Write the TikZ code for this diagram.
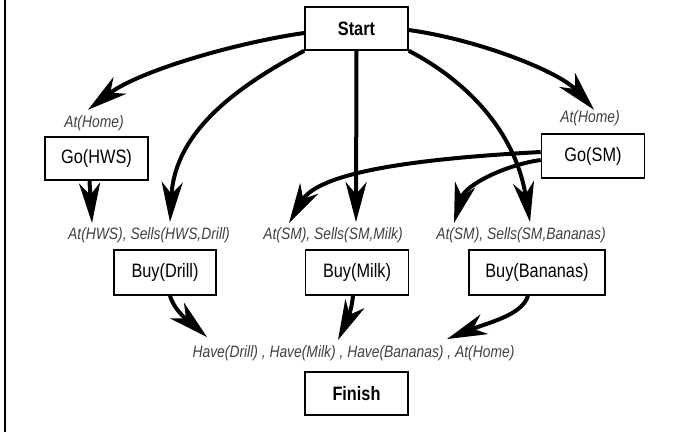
\documentclass[tikz,border=0pt]{standalone}
\usepackage{fontspec}
\setmainfont{Liberation Sans}
\newfontfamily\boxfont[FakeStretch=0.84]{Liberation Sans}
\usetikzlibrary{arrows.meta}
\begin{document}
\begin{tikzpicture}[x=1pt,y=-1pt,
 box/.style={draw=black, line width=1.6pt, minimum width=103pt, minimum height=43pt, inner sep=0pt, font=\boxfont\fontsize{19.4}{20}\selectfont},
 bbox/.style={box, font=\boxfont\bfseries\fontsize{19.4}{20}\selectfont},
 cond/.style={inner sep=0pt, text height=12pt, text depth=3.5pt, text=black!75, font=\boxfont\itshape\fontsize{16.5}{18}\selectfont},
 arr/.style={line width=4pt, arrows={-Stealth[length=40pt,width=21pt,inset=12pt]}}]
\useasboundingbox (0,0) rectangle (681,432);
\draw[line width=1.5pt] (5,0) -- (5,432);

% boxes
\node[bbox] (start) at (356.5,28.5) {Start};
\node[box] (gohws) at (96.5,158.5) {Go(HWS)};
\node[box, minimum height=44pt] (gosm) at (593,156) {Go(SM)};
\node[box, minimum width=102pt, minimum height=45pt] (buydrill) at (165,272.5) {Buy(Drill)};
\node[box, minimum height=45pt] (buymilk) at (357,272.5) {Buy(Milk)};
\node[box, minimum width=136pt, minimum height=45pt] (buybananas) at (537,272.5) {Buy(Bananas)};
\node[bbox] (finish) at (356.5,393.5) {Finish};

% conditions
\node[cond] (athome1) at (94,123) {At(Home)};
\node[cond] (athome2) at (590,118) {At(Home)};
\node[cond] (lab1) at (149,235) {At(HWS), Sells(HWS,Drill)};
\node[cond] (lab2) at (333,235) {At(SM), Sells(SM,Milk)};
\node[cond] (lab3) at (521,235) {At(SM), Sells(SM,Bananas)};
\node[cond] (have) at (353.5,353) {Have(Drill) , Have(Milk) , Have(Bananas) , At(Home)};

% arrows from Start
\draw[arr] ([yshift=-4.5pt]start.west) .. controls (240,42) and (140,70) .. ([xshift=-6pt,yshift=5.25pt]athome1.north);
\draw[arr] ([yshift=-1.5pt]start.east) .. controls (480,40) and (560,72) .. ([xshift=4pt,yshift=0.25pt]athome2.north);
\draw[arr] (start.south west) .. controls (240,85) and (175,130) .. ([xshift=21pt,yshift=5pt]lab1.north);
\draw[arr] (start.south) -- ([xshift=23pt,yshift=5pt]lab2.north);
\draw[arr] (start.south east) .. controls (465,80) and (515,130) .. ([xshift=9pt,yshift=5pt]lab3.north);

% Go arrows
\draw[arr] ([xshift=-7pt]gohws.south) -- ([xshift=-57pt,yshift=4pt]lab1.north);
\draw[arr] ([yshift=4pt]gosm.west) .. controls (430,158) and (320,170) .. ([xshift=-44pt,yshift=4pt]lab2.north);
\draw[arr] ([yshift=-4pt]gosm.west) .. controls (505,165) and (465,185) .. ([xshift=-67pt,yshift=4pt]lab3.north);

% Buy arrows
\draw[arr] ([xshift=5pt]buydrill.south) .. controls (175,312) and (190,322) .. ([xshift=-146.5pt,yshift=8pt]have.north);
\draw[arr] ([xshift=-4pt]buymilk.south) .. controls (351,315) and (345,325) .. ([xshift=-15.5pt,yshift=5pt]have.north);
\draw[arr] ([xshift=-9pt]buybananas.south) .. controls (522,315) and (490,322) .. ([xshift=93.5pt,yshift=6pt]have.north);
\end{tikzpicture}
\end{document}
